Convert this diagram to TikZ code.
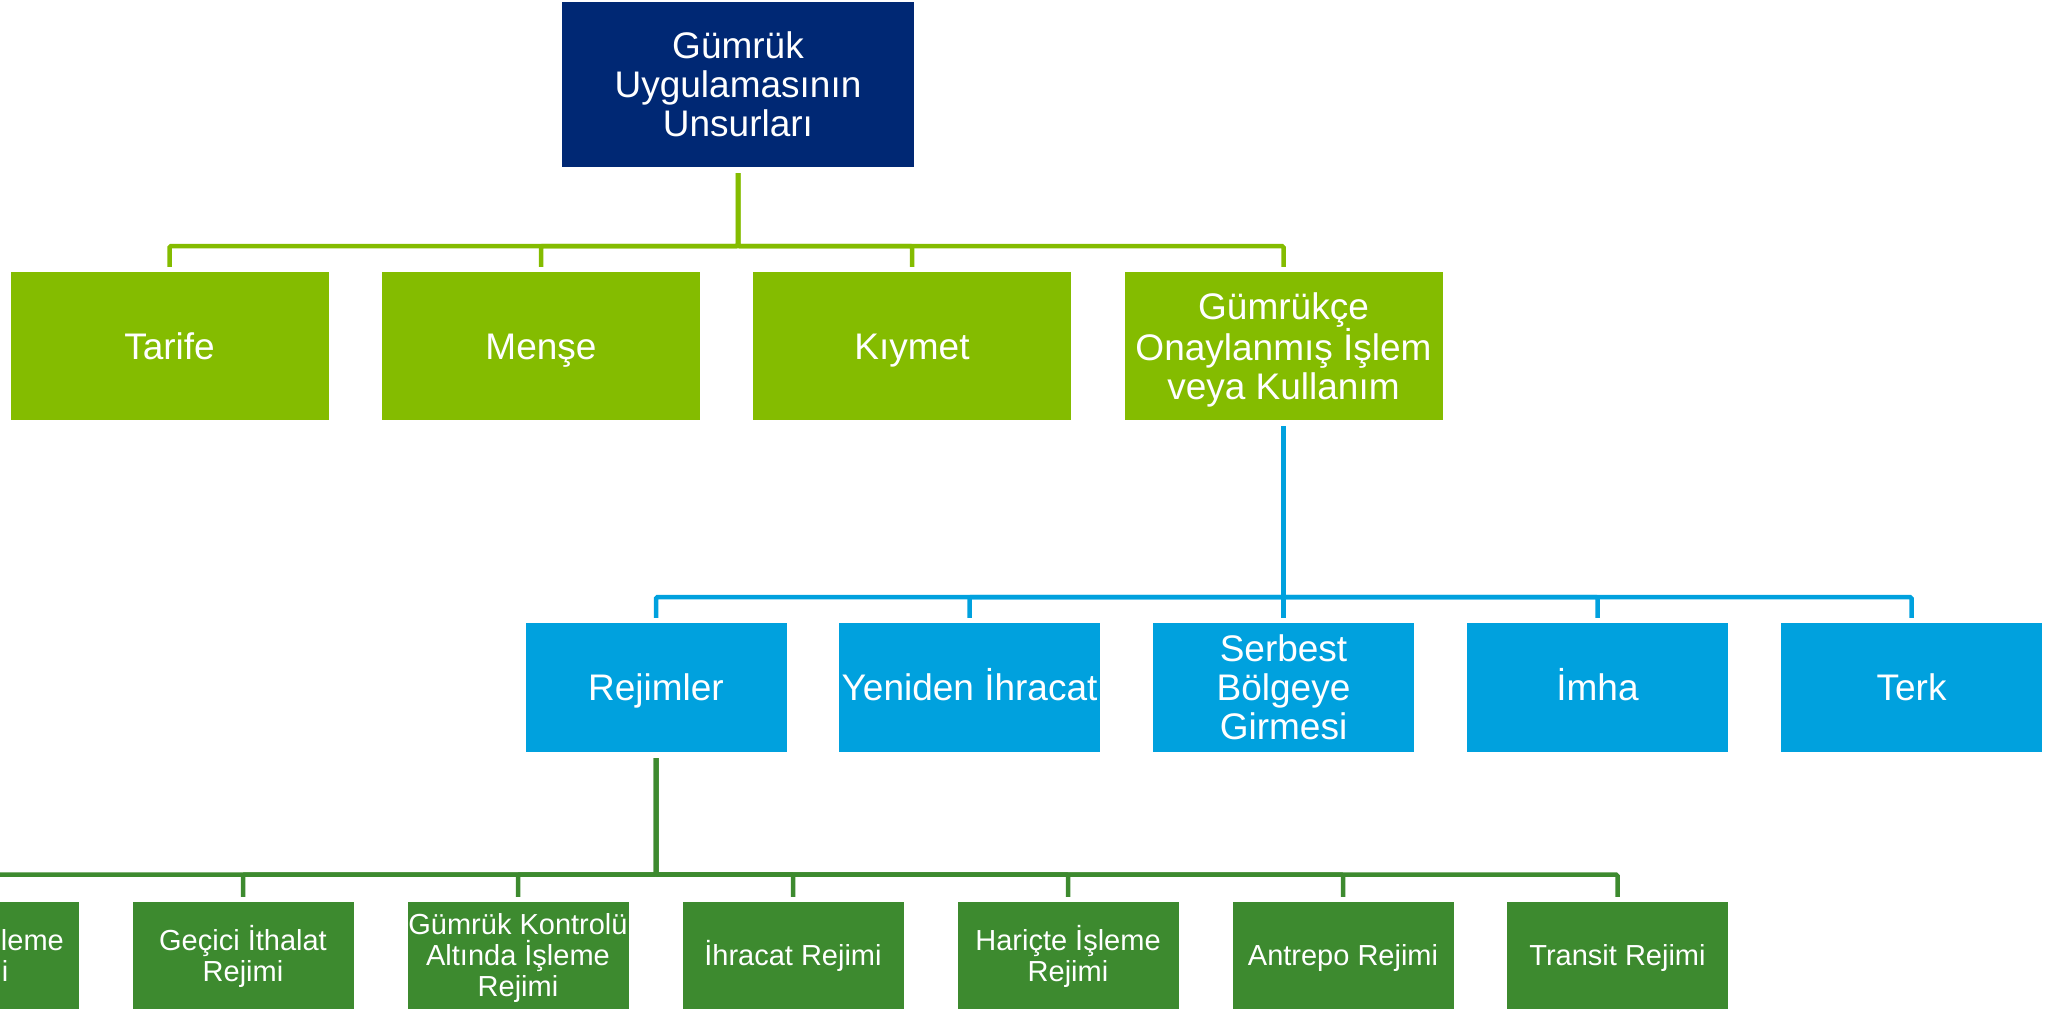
\documentclass[tikz,border=0pt]{standalone}
\usepackage{fontspec}
\setmainfont{Liberation Sans}
\definecolor{navyc}{RGB}{0,40,116}
\definecolor{lgreen}{RGB}{132,188,0}
\definecolor{bluec}{RGB}{0,161,222}
\definecolor{dgreen}{RGB}{61,138,47}
% struts that fix the vertical centring of the text lines
\newcommand\hA{\rule{0pt}{35pt}}
\newcommand\dA{\rule[-8.5pt]{0pt}{8.5pt}}
\newcommand\hB{\rule{0pt}{27.5pt}}
\newcommand\dB{\rule[-10.3pt]{0pt}{10.3pt}}
\begin{document}
\begin{tikzpicture}[x=1pt,y=-1pt,
  box/.style={rectangle, inner sep=0pt, align=center, text=white,
    font=\fontsize{37}{39}\selectfont},
  topbox/.style={box, fill=navyc, minimum width=352pt, minimum height=165pt},
  l1box/.style={box, fill=lgreen, minimum width=318pt, minimum height=148pt},
  l2box/.style={box, fill=bluec, minimum width=261pt, minimum height=129pt},
  l3box/.style={box, fill=dgreen, minimum width=221pt, minimum height=110pt,
    font=\fontsize{29}{31}\selectfont},
  conn/.style={line width=4.5pt, shorten <=6pt, shorten >=5pt, rounded corners=1.5pt},
  lgconn/.style={conn, draw=lgreen},
  blconn/.style={conn, draw=bluec},
  dgconn/.style={conn, draw=dgreen}]
\useasboundingbox (0,0) rectangle (2054,1009);
% top
\node[topbox] (top) at (738,84.5) {\hA Gümrük\\Uygulamasının\\Unsurları\dA};
% level 1
\node[l1box] (tarife) at (169.5,346) {\hA Tarife\dA};
\node[l1box] (mense) at (541,346) {\hA Menşe\dA};
\node[l1box] (kiymet) at (912,346) {\hA Kıymet\dA};
\node[l1box] (gok) at (1283.5,346) {\hA Gümrükçe\\Onaylanmış İşlem\\veya Kullanım\dA};
% level 2
\node[l2box] (rejimler) at (656,687.5) {\hA Rejimler\dA};
\node[l2box] (yeniden) at (969.5,687.5) {\hA Yeniden İhracat\dA};
\node[l2box] (serbest) at (1283.5,687.5) {\hA Serbest\\Bölgeye\\Girmesi\dA};
\node[l2box] (imha) at (1597.5,687.5) {\hA İmha\dA};
\node[l2box] (terk) at (1911.5,687.5) {\hA Terk\dA};
% level 3
\node[l3box] (dahilde) at (-32,957) {\hB Dahilde İşleme\\Rejimi\dB};
\node[l3box] (gecici) at (243,957) {\hB Geçici İthalat\\Rejimi\dB};
\node[l3box] (gkai) at (518,957) {\hB Gümrük Kontrolü\\Altında İşleme\\Rejimi\dB};
\node[l3box] (ihracat) at (793,957) {\hB İhracat Rejimi\dB};
\node[l3box] (haricte) at (1068,957) {\hB Hariçte İşleme\\Rejimi\dB};
\node[l3box] (antrepo) at (1343,957) {\hB Antrepo Rejimi\dB};
\node[l3box] (transit) at (1617.5,957) {\hB Transit Rejimi\dB};
% bar levels
\coordinate (barA) at (0,246);
\coordinate (barB) at (0,597);
\coordinate (barC) at (0,874.5);
% connectors
\foreach \c in {tarife,mense,kiymet,gok}
  \draw[lgconn] (top.south) -- (top.south |- barA) -| (\c.north);
\foreach \c in {rejimler,yeniden,serbest,imha,terk}
  \draw[blconn] (gok.south) -- (gok.south |- barB) -| (\c.north);
\foreach \c in {dahilde,gecici,gkai,ihracat,haricte,antrepo,transit}
  \draw[dgconn] (rejimler.south) -- (rejimler.south |- barC) -| (\c.north);
\end{tikzpicture}
\end{document}
